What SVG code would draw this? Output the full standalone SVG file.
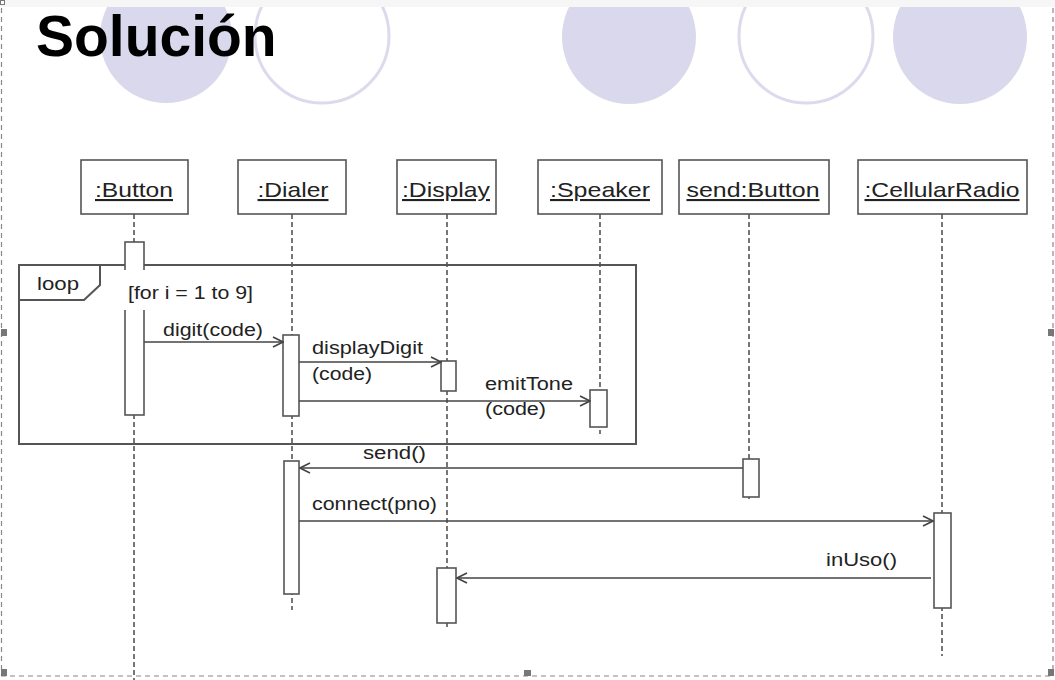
<svg xmlns="http://www.w3.org/2000/svg" width="1055" height="680" viewBox="0 0 1055 680">
<style>
.bg-fill{fill:#d9d8ec;stroke:none}
.bg-ring{fill:none;stroke:#dcdbee;stroke-width:3}
.frame{fill:none;stroke:#888;stroke-width:1.2;stroke-dasharray:5 4}
.handle{fill:#777}
.box{fill:#fff;stroke:#555;stroke-width:1.6}
.nlabel{font-family:"Liberation Sans",Arial,sans-serif;font-size:21px;fill:#222;text-anchor:middle;text-decoration:underline}
.life{stroke:#555;stroke-width:1.6;stroke-dasharray:5 3;fill:none}
.act{fill:#fff;stroke:#555;stroke-width:1.6}
.msg{stroke:#444;stroke-width:1.6;fill:none}
.lbl{font-family:"Liberation Sans",Arial,sans-serif;font-size:18px;fill:#222}
.loop{fill:none;stroke:#555;stroke-width:2}
</style>
<defs>
<marker id="open" markerWidth="12" markerHeight="12" refX="11" refY="6" orient="auto" markerUnits="userSpaceOnUse">
<path d="M1,1 L11,6 L1,11" fill="none" stroke="#444" stroke-width="1.6"/>
</marker>
<clipPath id="top"><rect x="0" y="7" width="1055" height="673"/></clipPath>
</defs>
<rect x="0" y="0" width="1055" height="680" fill="#fff"/>
<rect x="0" y="0" width="1055" height="7" fill="#f6f6f6"/>
<g id="background" clip-path="url(#top)">
<circle class="bg-fill" cx="166" cy="37" r="66"/>
<circle class="bg-ring" cx="322" cy="36" r="67"/>
<circle class="bg-fill" cx="629" cy="37" r="67"/>
<circle class="bg-ring" cx="806" cy="36" r="67"/>
<circle class="bg-fill" cx="960" cy="37" r="67"/>
</g>
<text id="title" x="36" y="56" font-family="Liberation Sans,Arial,sans-serif" font-size="57" font-weight="bold" fill="#000">Solución</text>
<g id="selection">
<rect x="0.5" y="0.5" width="4" height="4" fill="#fff" stroke="#777" stroke-width="1"/>
<line class="frame" x1="1.5" y1="8" x2="1.5" y2="676"/>
<line class="frame" x1="1053" y1="8" x2="1053" y2="676"/>
<line class="frame" x1="1" y1="676" x2="1053" y2="676"/>
<rect class="handle" x="1" y="329" width="6" height="7"/>
<rect class="handle" x="1048" y="329" width="6" height="7"/>
<rect class="handle" x="524" y="670" width="7" height="6"/>
<rect class="handle" x="1" y="669" width="6" height="7"/>
<rect class="handle" x="1048" y="669" width="6" height="7"/>
</g>
<g id="lifelines">
<line class="life" x1="134" y1="214" x2="134" y2="680"/>
<line class="life" x1="292" y1="214" x2="292" y2="610"/>
<line class="life" x1="447" y1="214" x2="447" y2="627"/>
<line class="life" x1="600" y1="214" x2="600" y2="434"/>
<line class="life" x1="749" y1="214" x2="749" y2="502"/>
<line class="life" x1="942" y1="214" x2="942" y2="656"/>
</g>
<g id="loop-frame">
<rect class="loop" x="19" y="265" width="617" height="179"/>
<path class="loop" d="M19,300 L84,300 L100,285 L100,265"/>
<text class="lbl" x="37" y="290" textLength="42" lengthAdjust="spacingAndGlyphs">loop</text>
</g>
<g id="node-button">
<rect class="box" x="81" y="160" width="107" height="54"/>
<text class="nlabel" x="134" y="197" textLength="78" lengthAdjust="spacingAndGlyphs">:Button</text>
<rect class="act" x="125" y="242" width="19" height="173"/>
</g>
<g id="guard">
<rect x="120" y="270" width="140" height="40" fill="#fff"/>
<text class="lbl" x="128" y="299" textLength="125" lengthAdjust="spacingAndGlyphs">[for i = 1 to 9]</text>
</g>
<g id="node-dialer">
<rect class="box" x="238" y="160" width="108" height="54"/>
<text class="nlabel" x="293" y="197" textLength="71" lengthAdjust="spacingAndGlyphs">:Dialer</text>
<rect class="act" x="283" y="335" width="16" height="81"/>
<rect class="act" x="284" y="461" width="15" height="133"/>
</g>
<g id="node-display">
<rect class="box" x="397" y="160" width="99" height="54"/>
<text class="nlabel" x="446" y="197" textLength="88" lengthAdjust="spacingAndGlyphs">:Display</text>
<rect class="act" x="441" y="361" width="15" height="30"/>
<rect class="act" x="437" y="568" width="19" height="55"/>
</g>
<g id="node-speaker">
<rect class="box" x="538" y="160" width="124" height="54"/>
<text class="nlabel" x="600" y="197" textLength="100" lengthAdjust="spacingAndGlyphs">:Speaker</text>
<rect class="act" x="590" y="390" width="17" height="37"/>
</g>
<g id="node-sendbutton">
<rect class="box" x="679" y="160" width="150" height="54"/>
<text class="nlabel" x="753" y="197" textLength="133" lengthAdjust="spacingAndGlyphs">send:Button</text>
<rect class="act" x="743" y="459" width="16" height="38"/>
</g>
<g id="node-cellularradio">
<rect class="box" x="858" y="160" width="169" height="54"/>
<text class="nlabel" x="942" y="197" textLength="155" lengthAdjust="spacingAndGlyphs">:CellularRadio</text>
<rect class="act" x="934" y="513" width="17" height="95"/>
</g>
<g id="connectors">
<line class="msg" x1="144" y1="342" x2="283" y2="342" marker-end="url(#open)"/>
<text class="lbl" x="163" y="336" textLength="100" lengthAdjust="spacingAndGlyphs">digit(code)</text>
<line class="msg" x1="299" y1="362" x2="441" y2="362" marker-end="url(#open)"/>
<text class="lbl" x="312" y="354" textLength="111" lengthAdjust="spacingAndGlyphs">displayDigit</text>
<text class="lbl" x="312" y="380" textLength="60" lengthAdjust="spacingAndGlyphs">(code)</text>
<line class="msg" x1="299" y1="401" x2="590" y2="401" marker-end="url(#open)"/>
<text class="lbl" x="485" y="390" textLength="88" lengthAdjust="spacingAndGlyphs">emitTone</text>
<text class="lbl" x="485" y="415" textLength="61" lengthAdjust="spacingAndGlyphs">(code)</text>
<line class="msg" x1="743" y1="468" x2="300" y2="468" marker-end="url(#open)"/>
<text class="lbl" x="363" y="459" textLength="63" lengthAdjust="spacingAndGlyphs">send()</text>
<line class="msg" x1="299" y1="521" x2="933" y2="521" marker-end="url(#open)"/>
<text class="lbl" x="312" y="510" textLength="125" lengthAdjust="spacingAndGlyphs">connect(pno)</text>
<line class="msg" x1="931" y1="578" x2="457" y2="578" marker-end="url(#open)"/>
<text class="lbl" x="826" y="566" textLength="71" lengthAdjust="spacingAndGlyphs">inUso()</text>
</g>
</svg>
